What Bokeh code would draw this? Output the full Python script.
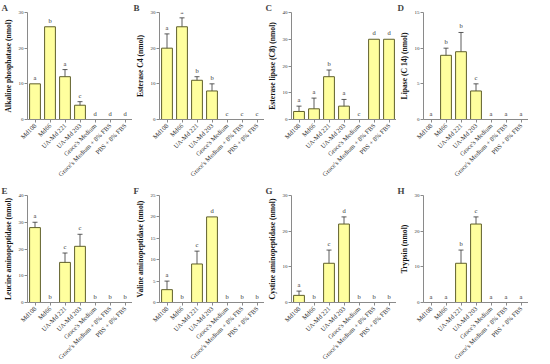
import math
from bokeh.plotting import figure
from bokeh.layouts import gridplot
from bokeh.models import ColumnDataSource, Range1d, FixedTicker, Whisker, TeeHead
from bokeh.core.properties import value
from bokeh.embed import file_html
from bokeh.resources import INLINE

categories = ["Md108", "Md66", "UA-Md 221", "UA-Md 203", "Grace's Medium",
              "Grace's Medium + 8% FBS", "PBS + 8% FBS"]

panel_letters = ["A", "B", "C", "D", "E", "F", "G", "H"]
y_labels = ["Alkaline phosphatase (nmol)", "Esterase C4 (nmol)", "Esterase lipase (C8) (nmol)",
            "Lipase (C 14) (nmol)", "Leucine aminopeptidase (nmol)", "Valine aminopeptidase (nmol)",
            "Cystine aminopeptidase (nmol)", "Trypsin (nmol)"]
y_max = [30, 30, 40, 15, 40, 25, 30, 30]
y_step = [10, 10, 10, 5, 10, 5, 10, 10]

means_A = [10, 26, 12, 4, 0, 0, 0]
err_A = [0, 0, 2, 1, 0, 0, 0]
sig_A = ["a", "b", "a", "c", "d", "d", "d"]

means_B = [20, 26, 11, 8, 0, 0, 0]
err_B = [4, 2.5, 1, 2, 0, 0, 0]
sig_B = ["a", "a", "b", "b", "c", "c", "c"]

means_C = [3, 4, 16, 5, 0, 30, 30]
err_C = [2, 4, 2.5, 2.5, 0, 0, 0]
sig_C = ["a", "a", "b", "a", "c", "d", "d"]

means_D = [0, 9, 9.5, 4, 0, 0, 0]
err_D = [0, 1, 2.7, 1, 0, 0, 0]
sig_D = ["a", "b", "b", "c", "a", "a", "a"]

means_E = [28, 0, 15, 21, 0, 0, 0]
err_E = [2, 0, 3.5, 4.5, 0, 0, 0]
sig_E = ["a", "b", "c", "c", "b", "b", "b"]

means_F = [3, 0, 9, 20, 0, 0, 0]
err_F = [2, 0, 3, 0, 0, 0, 0]
sig_F = ["a", "b", "c", "d", "b", "b", "b"]

means_G = [2, 0, 11, 22, 0, 0, 0]
err_G = [1.2, 0, 3.7, 2, 0, 0, 0]
sig_G = ["a", "b", "c", "d", "b", "b", "b"]

means_H = [0, 0, 11, 22, 0, 0, 0]
err_H = [0, 0, 3.7, 2, 0, 0, 0]
sig_H = ["a", "a", "b", "c", "a", "a", "a"]

all_means = [means_A, means_B, means_C, means_D, means_E, means_F, means_G, means_H]
all_errs = [err_A, err_B, err_C, err_D, err_E, err_F, err_G, err_H]
all_sigs = [sig_A, sig_B, sig_C, sig_D, sig_E, sig_F, sig_G, sig_H]

SERIF = "Liberation Serif"
AXIS_COLOR = "#8a8a8a"
FILL = "#ffff9e"
EDGE = "#5f5f2a"

figs = []
for i in range(8):
    m = all_means[i]
    e = all_errs[i]
    s = all_sigs[i]
    p = figure(x_range=categories, y_range=Range1d(0, y_max[i]),
               frame_width=105, frame_height=107, output_backend="svg", toolbar_location=None,
               min_border_left=27, min_border_right=0, min_border_top=0, min_border_bottom=54)
    p.title.text = panel_letters[i]
    p.title.text_font = SERIF
    p.title.text_font_style = "bold"
    p.title.text_font_size = "9px"
    p.title.align = "left"
    p.title.offset = -26
    p.title.standoff = 0
    p.outline_line_color = None
    p.xgrid.grid_line_color = None
    p.ygrid.grid_line_color = None
    p.x_range.range_padding = 0

    src = ColumnDataSource(dict(x=categories, top=m,
                                upper=[a + b for a, b in zip(m, e)],
                                sig=s))
    p.vbar(x="x", top="top", width=0.72, source=src, fill_color=FILL,
           line_color=EDGE, line_width=1)

    ex = [c for c, er in zip(categories, e) if er > 0]
    eu = [a + b for a, b in zip(m, e) if b > 0]
    el = [a - b for a, b in zip(m, e) if b > 0]
    if ex:
        wsrc = ColumnDataSource(dict(x=ex, upper=eu, lower=el))
        w = Whisker(base="x", upper="upper", lower="lower", source=wsrc,
                    line_color="#333333", line_width=0.8,
                    upper_head=TeeHead(size=5, line_color="#333333", line_width=0.8),
                    lower_head=TeeHead(size=5, line_color="#333333", line_width=0.8))
        p.add_layout(w)

    p.text(x="x", y="upper", text="sig", source=src, text_font=value(SERIF),
           text_font_size="6.5px", text_align="center", text_baseline="bottom",
           y_offset=-3, text_color="#333333")

    p.yaxis.ticker = FixedTicker(ticks=list(range(0, y_max[i] + 1, y_step[i])))
    p.yaxis.axis_label = y_labels[i]
    p.yaxis.axis_label_text_font = SERIF
    p.yaxis.axis_label_text_font_style = "bold"
    p.yaxis.axis_label_text_font_size = "7.6px"
    p.yaxis.axis_label_standoff = 3
    p.yaxis.major_label_text_font = SERIF
    p.yaxis.major_label_text_font_size = "5px"
    p.yaxis.major_label_standoff = 1
    p.yaxis.minor_tick_line_color = None
    p.yaxis.major_tick_out = 3
    p.yaxis.major_tick_in = 0

    p.xaxis.major_label_orientation = math.pi / 4
    p.xaxis.major_label_text_font = SERIF
    p.xaxis.major_label_text_font_size = "6.5px"
    p.xaxis.major_label_standoff = 2
    p.xaxis.major_tick_out = 3
    p.xaxis.major_tick_in = 0

    for ax in (p.xaxis, p.yaxis):
        ax.axis_line_color = AXIS_COLOR
        ax.major_tick_line_color = AXIS_COLOR
        ax.major_label_text_color = "#333333"
        ax.axis_label_text_color = "#111111"
    figs.append(p)

grid = gridplot(figs, ncols=4, toolbar_location=None)

open("out.html", "w").write(file_html(grid, INLINE))
